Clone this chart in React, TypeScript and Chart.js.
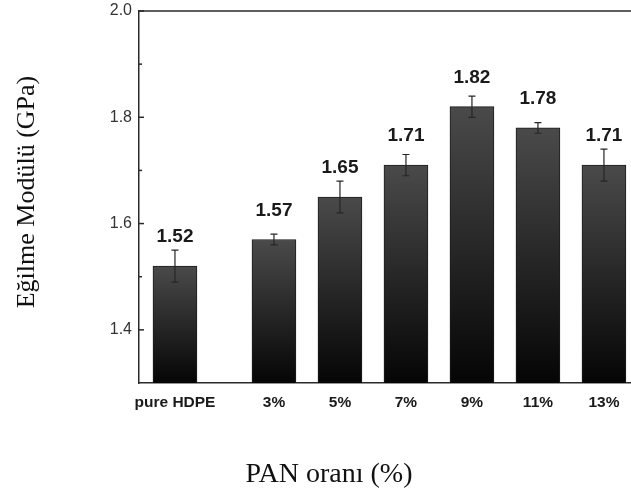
import React, { useEffect, useRef } from 'react';
import { Chart, registerables } from 'chart.js';

Chart.register(...registerables);

const categoryLabels = ['pure HDPE', '3%', '5%', '7%', '9%', '11%', '13%'];
const panRatios = [0, 3, 5, 7, 9, 11, 13];
const modulus = [1.52, 1.57, 1.65, 1.71, 1.82, 1.78, 1.71];
const modulusError = [0.03, 0.01, 0.03, 0.02, 0.02, 0.01, 0.03];
const yMajorTicks = [1.4, 1.6, 1.8, 2.0];
const yMinorTicks = [1.5, 1.7, 1.9];
const yTitle = 'Eğilme Modülü (GPa)';
const xTitle = 'PAN oranı (%)';

const SANS = '"Liberation Sans", Arial, sans-serif';
const SERIF = '"Liberation Serif", "Times New Roman", serif';

const decorPlugin = {
  id: 'decor',
  afterDatasetsDraw(chart: any) {
    const { ctx, chartArea, scales } = chart;
    const y = scales.y;
    ctx.save();
    // top frame line
    ctx.strokeStyle = '#2a2a2a';
    ctx.lineWidth = 1.5;
    ctx.beginPath();
    ctx.moveTo(chartArea.left, chartArea.top);
    ctx.lineTo(chartArea.right, chartArea.top);
    ctx.stroke();
    // inward ticks
    ctx.lineWidth = 1.5;
    yMajorTicks.forEach((v) => {
      const py = y.getPixelForValue(v);
      ctx.beginPath();
      ctx.moveTo(chartArea.left, py);
      ctx.lineTo(chartArea.left + 5, py);
      ctx.stroke();
    });
    yMinorTicks.forEach((v) => {
      const py = y.getPixelForValue(v);
      ctx.beginPath();
      ctx.moveTo(chartArea.left, py);
      ctx.lineTo(chartArea.left + 3, py);
      ctx.stroke();
    });
    // error bars and value labels
    const meta = chart.getDatasetMeta(0);
    meta.data.forEach((bar: any, i: number) => {
      const cx = bar.x;
      const yHi = y.getPixelForValue(modulus[i] + modulusError[i]);
      const yLo = y.getPixelForValue(modulus[i] - modulusError[i]);
      ctx.strokeStyle = '#262626';
      ctx.lineWidth = 1.2;
      ctx.beginPath();
      ctx.moveTo(cx, yHi);
      ctx.lineTo(cx, yLo);
      ctx.moveTo(cx - 3.5, yHi);
      ctx.lineTo(cx + 3.5, yHi);
      ctx.moveTo(cx - 3.5, yLo);
      ctx.lineTo(cx + 3.5, yLo);
      ctx.stroke();
      ctx.fillStyle = '#1a1a1a';
      ctx.font = 'bold 19px ' + SANS;
      ctx.textAlign = 'center';
      ctx.textBaseline = 'middle';
      ctx.fillText(modulus[i].toFixed(2), cx, bar.y - 29);
    });
    // axis titles
    ctx.fillStyle = '#111';
    ctx.textAlign = 'center';
    ctx.textBaseline = 'middle';
    ctx.font = '28px ' + SERIF;
    ctx.fillText(xTitle, 329, 475);
    ctx.font = '26px ' + SERIF;
    ctx.save();
    ctx.translate(27, 192);
    ctx.rotate(-Math.PI / 2);
    ctx.fillText(yTitle, 0, 0);
    ctx.restore();
    ctx.restore();
  },
};

export default function App() {
  const ref = useRef<HTMLCanvasElement | null>(null);
  useEffect(() => {
    if (!ref.current) return;
    const chart = new Chart(ref.current, {
      type: 'bar',
      data: {
        datasets: [
          {
            data: panRatios.map((p, i) => ({ x: p, y: modulus[i] })),
            barThickness: 44,
            borderWidth: 1,
            borderColor: '#1c1c1c',
            backgroundColor: (context: any) => {
              const c = context.chart;
              const ys = c.scales && c.scales.y;
              if (!ys || context.parsed == null) return '#333';
              const top = ys.getPixelForValue(context.parsed.y);
              const bottom = ys.getPixelForValue(ys.min);
              if (!isFinite(top) || !isFinite(bottom) || top === bottom) return '#333';
              const g = c.ctx.createLinearGradient(0, top, 0, bottom);
              g.addColorStop(0, '#4a4a4a');
              g.addColorStop(1, '#050505');
              return g;
            },
          },
        ],
      },
      options: {
        responsive: false,
        animation: false,
        layout: { padding: { top: 11, right: 0, left: 0, bottom: 0 } },
        plugins: {
          legend: { display: false },
          tooltip: { enabled: false },
        },
        scales: {
          x: {
            type: 'linear',
            offset: false,
            min: -1.09,
            max: 13.82,
            grid: { display: false, drawTicks: false },
            border: { display: true, color: '#2a2a2a', width: 1.5 },
            afterBuildTicks: (scale: any) => {
              scale.ticks = panRatios.map((v) => ({ value: v }));
            },
            afterFit: (scale: any) => {
              scale.height = 118;
              scale.paddingLeft = 0;
              scale.paddingRight = 0;
            },
            ticks: {
              autoSkip: false,
              maxRotation: 0,
              padding: 10,
              color: '#1a1a1a',
              font: { family: SANS, size: 15.5, weight: 'bold' },
              callback: (v: any) => {
                const idx = panRatios.indexOf(Number(v));
                return idx >= 0 ? categoryLabels[idx] : '';
              },
            },
          },
          y: {
            min: 1.3,
            max: 2.0,
            grid: { display: false, drawTicks: false },
            border: { display: true, color: '#2a2a2a', width: 1.5 },
            afterBuildTicks: (scale: any) => {
              scale.ticks = yMajorTicks.map((v) => ({ value: v }));
            },
            afterFit: (scale: any) => {
              scale.width = 139;
              scale.paddingTop = 0;
              scale.paddingBottom = 0;
            },
            ticks: {
              padding: 7,
              color: '#333',
              font: { family: SANS, size: 16 },
              callback: (v: any) => Number(v).toFixed(1),
            },
          },
        },
      },
      plugins: [decorPlugin],
    } as any);
    return () => chart.destroy();
  }, []);
  return (
    <div style={{ position: 'absolute', left: 0, top: 0, width: 631, height: 501, background: '#fff' }}>
      <canvas ref={ref} width={631} height={501} style={{ display: 'block' }} />
    </div>
  );
}
